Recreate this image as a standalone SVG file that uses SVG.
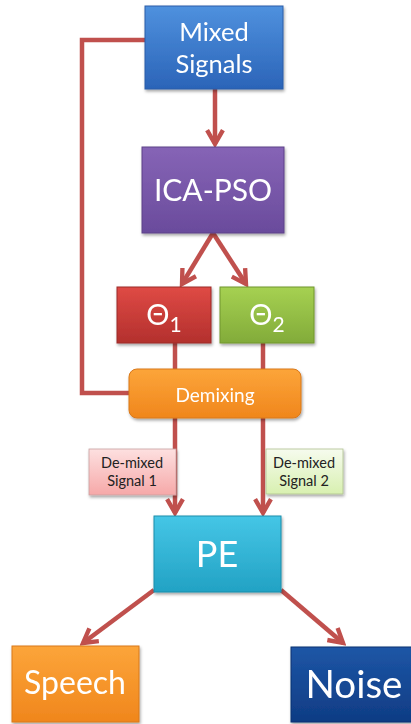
<svg xmlns="http://www.w3.org/2000/svg" width="411" height="724" viewBox="0 0 411 724">
<defs>
<style>
.t{font-family:Lato,"Open Sans","Noto Sans",sans-serif;fill:#fff;text-anchor:middle}
.tb{font-family:Lato,"Open Sans","Noto Sans",sans-serif;fill:#222;text-anchor:middle;font-size:14.5px}
.c{fill:none;stroke:#c0504d;stroke-width:4.5;stroke-linejoin:miter}
</style>
<marker id="ah" viewBox="0 0 10 10" refX="8" refY="5" markerWidth="4.4" markerHeight="4.4" orient="auto" markerUnits="strokeWidth">
<path d="M1,1 L8,5 L1,9" fill="none" stroke="#c0504d" stroke-width="2.2"/>
</marker>
<linearGradient id="gBlue" x1="0" y1="0" x2="0" y2="1"><stop offset="0" stop-color="#4f91de"/><stop offset="1" stop-color="#2b64b8"/></linearGradient>
<linearGradient id="gPurple" x1="0" y1="0" x2="0" y2="1"><stop offset="0" stop-color="#8664b6"/><stop offset="1" stop-color="#6a4b9c"/></linearGradient>
<linearGradient id="gRed" x1="0" y1="0" x2="0" y2="1"><stop offset="0" stop-color="#df4a45"/><stop offset="1" stop-color="#b3302d"/></linearGradient>
<linearGradient id="gGreen" x1="0" y1="0" x2="0" y2="1"><stop offset="0" stop-color="#a6d152"/><stop offset="1" stop-color="#82ab39"/></linearGradient>
<linearGradient id="gOrange" x1="0" y1="0" x2="0" y2="1"><stop offset="0" stop-color="#fca53a"/><stop offset="1" stop-color="#f0861c"/></linearGradient>
<linearGradient id="gCyan" x1="0" y1="0" x2="0" y2="1"><stop offset="0" stop-color="#45c6e6"/><stop offset="1" stop-color="#22a2c4"/></linearGradient>
<linearGradient id="gNavy" x1="0" y1="0" x2="0" y2="1"><stop offset="0" stop-color="#1d56a6"/><stop offset="1" stop-color="#0f3c84"/></linearGradient>
<linearGradient id="gPink" x1="0" y1="0" x2="0" y2="1"><stop offset="0" stop-color="#fde0e0"/><stop offset="1" stop-color="#f6a8a8"/></linearGradient>
<linearGradient id="gLime" x1="0" y1="0" x2="0" y2="1"><stop offset="0" stop-color="#f6fbee"/><stop offset="1" stop-color="#d8f0b0"/></linearGradient>
<filter id="sh" x="-10%" y="-10%" width="130%" height="130%"><feDropShadow dx="1" dy="2" stdDeviation="1.5" flood-color="#000" flood-opacity="0.35"/></filter>
</defs>
<rect width="411" height="724" fill="#fff"/>
<g id="connectors">
<polyline class="c" points="145,40 82,40 82,393 129,393"/>
<line class="c" x1="215" y1="89" x2="215" y2="144" marker-end="url(#ah)"/>
<line class="c" x1="213" y1="233" x2="182" y2="284" marker-end="url(#ah)"/>
<line class="c" x1="213" y1="233" x2="246" y2="284" marker-end="url(#ah)"/>
<line class="c" x1="175" y1="343" x2="175" y2="369"/>
<line class="c" x1="263" y1="343" x2="263" y2="369"/>
<line class="c" x1="175" y1="418" x2="175" y2="513" marker-end="url(#ah)"/>
<line class="c" x1="263" y1="418" x2="263" y2="513" marker-end="url(#ah)"/>
<line class="c" x1="154" y1="590" x2="83" y2="643" marker-end="url(#ah)"/>
<line class="c" x1="281" y1="590" x2="343" y2="643" marker-end="url(#ah)"/>
</g>
<g id="mixed" filter="url(#sh)">
<rect x="145" y="6" width="138" height="83" fill="url(#gBlue)" stroke="#2a5da8" stroke-width="1"/>
<text class="t" x="214" y="41" font-size="25.5">Mixed</text>
<text class="t" x="214" y="73" font-size="25.5">Signals</text>
</g>
<g id="icapso" filter="url(#sh)">
<rect x="142" y="147" width="142" height="86" fill="url(#gPurple)" stroke="#5d4088" stroke-width="1"/>
<text class="t" x="213" y="201" font-size="30">ICA-PSO</text>
</g>
<g id="theta1" filter="url(#sh)">
<rect x="117" y="287" width="94" height="56" fill="url(#gRed)" stroke="#9c2a28" stroke-width="1"/>
<text class="t" x="164" y="325" font-size="29">Θ<tspan font-size="21" dy="7">1</tspan></text>
</g>
<g id="theta2" filter="url(#sh)">
<rect x="220" y="287" width="94" height="56" fill="url(#gGreen)" stroke="#71962f" stroke-width="1"/>
<text class="t" x="267" y="325" font-size="29">Θ<tspan font-size="21" dy="7">2</tspan></text>
</g>
<g id="demixing" filter="url(#sh)">
<rect x="129" y="369" width="172" height="49" rx="8" fill="url(#gOrange)" stroke="#d9781a" stroke-width="1"/>
<text class="t" x="215" y="402" font-size="19">Demixing</text>
</g>
<g id="label1">
<rect x="89" y="449" width="87" height="46" fill="url(#gPink)" stroke="#c8a0a0" stroke-width="0.8" filter="url(#sh)"/>
<text class="tb" x="132" y="468">De-mixed</text>
<text class="tb" x="132" y="486">Signal 1</text>
</g>
<g id="label2">
<rect x="266" y="449" width="77" height="45" fill="url(#gLime)" stroke="#b0c090" stroke-width="0.8" filter="url(#sh)"/>
<text class="tb" x="304" y="468">De-mixed</text>
<text class="tb" x="304" y="486">Signal 2</text>
</g>
<g id="pe" filter="url(#sh)">
<rect x="154" y="516" width="127" height="76" fill="url(#gCyan)" stroke="#1d8eab" stroke-width="1"/>
<text class="t" x="217" y="567" font-size="36">PE</text>
</g>
<g id="speech" filter="url(#sh)">
<rect x="12" y="646" width="127" height="76" fill="url(#gOrange)" stroke="#d9781a" stroke-width="1"/>
<text class="t" x="75" y="694" font-size="32">Speech</text>
</g>
<g id="noise" filter="url(#sh)">
<rect x="291" y="647" width="121" height="75" fill="url(#gNavy)" stroke="#0c3070" stroke-width="1"/>
<text class="t" x="354" y="698" font-size="38.5">Noise</text>
</g>
</svg>
